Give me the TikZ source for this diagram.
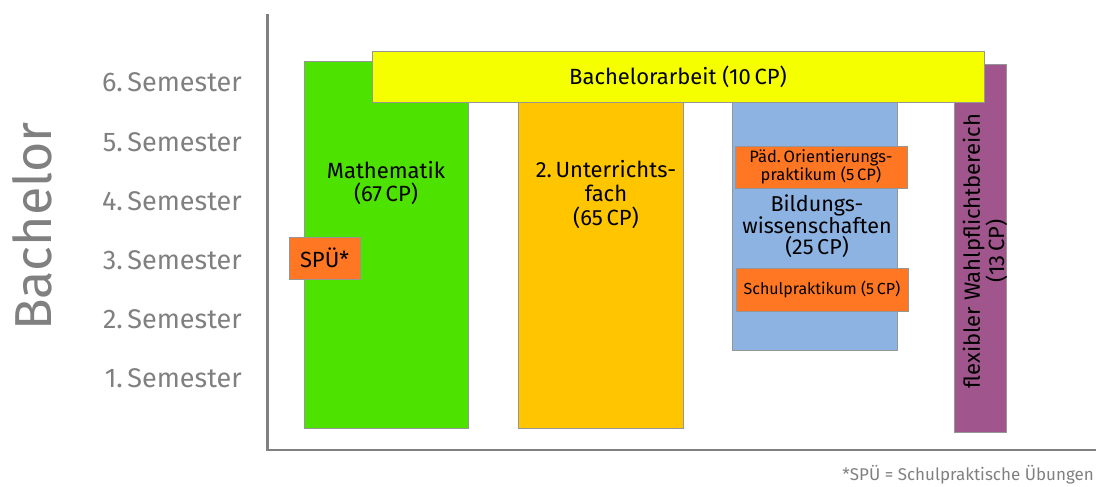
\documentclass[tikz,border=0pt]{standalone}
\usepackage{fontspec}
\setmainfont{Fira Sans}
\definecolor{axisgray}{RGB}{128,128,128}
\definecolor{cgreen}{RGB}{78,226,0}
\definecolor{cyellow}{RGB}{245,255,0}
\definecolor{cgold}{RGB}{255,198,0}
\definecolor{cblue}{RGB}{141,179,226}
\definecolor{corange}{RGB}{255,119,34}
\definecolor{cpurple}{RGB}{160,86,140}
\definecolor{edge}{RGB}{150,150,150}
\tikzset{
  blk/.style={draw=edge, line width=0.8pt},
  lbl/.style={inner sep=0pt, align=center, text=black},
  sem/.style={inner sep=0pt, anchor=base east, text=axisgray, font=\fontsize{27}{30}\selectfont},
  axisline/.style={draw=axisgray, line width=2.6pt},
  smallbox/.style={blk, fill=corange, inner sep=0pt, align=center, text=black},
}
\begin{document}
\begin{tikzpicture}[x=1pt,y=-1pt]
\useasboundingbox (0,0) rectangle (1096,487);
% axes
\coordinate (top) at (267.5,14);
\coordinate (corner) at (267.5,450);
\coordinate (right) at (1096,450);
\draw[axisline] (top) -- (corner) -- (right);
% title
\node[inner sep=0pt, rotate=90, anchor=base, text=axisgray, font=\fontsize{52}{56}\selectfont] (bach) at (51,226.5) {Bachelor};
% semester labels
\node[sem] (s6) at (242,92) {6.\,Semester};
\node[sem] (s5) at (242,151) {5.\,Semester};
\node[sem] (s4) at (242,210) {4.\,Semester};
\node[sem] (s3) at (242,269) {3.\,Semester};
\node[sem] (s2) at (242,328) {2.\,Semester};
\node[sem] (s1) at (242,387) {1.\,Semester};
% columns
\draw[blk, fill=cgreen] (304,61) rectangle (468,428);
\draw[blk, fill=cgold] (518,95) rectangle (683,428);
\draw[blk, fill=cblue] (732,95) rectangle (897,350);
\draw[blk, fill=cpurple] (954,64) rectangle (1006,432);
% Bachelorarbeit
\node[blk, fill=cyellow, inner sep=0pt, minimum width=612pt, minimum height=51pt, font=\fontsize{22}{24}\selectfont] (ba) at (678,76.5) {Bachelorarbeit (10\,CP)};
% labels
\node[lbl, font=\fontsize{22}{23.5}\selectfont] (ma) at (386,183) {Mathematik\\(67\,CP)};
\node[lbl, font=\fontsize{22}{24}\selectfont] (uf) at (606,195) {2.\,Unterrichts-\\fach\\(65\,CP)};
\node[lbl, font=\fontsize{21.5}{20.5}\selectfont] (bw) at (817,226) {Bildungs-\\wissenschaften\\(25\,CP)};
\node[lbl, rotate=90, font=\fontsize{22}{20}\selectfont] (fw) at (985,251) {flexibler Wahlpflichtbereich\\(13\,CP)};
% small orange boxes
\node[smallbox, minimum width=71pt, minimum height=42pt, font=\fontsize{22}{24}\selectfont] (spu) at (324.5,258) {SPÜ*};
\node[smallbox, minimum width=172pt, minimum height=42pt, font=\fontsize{16.5}{15.5}\selectfont] (pop) at (821,167) {Päd.\,Orientierungs-\\praktikum (5\,CP)};
\node[smallbox, minimum width=172pt, minimum height=43pt, font=\fontsize{16}{18}\selectfont] (sp) at (822,289.5) {Schulpraktikum (5\,CP)};
% footnote
\node[inner sep=0pt, anchor=base east, text=axisgray, font=\fontsize{17}{19}\selectfont] (fn) at (1094,480) {*SPÜ = Schulpraktische Übungen};
\end{tikzpicture}
\end{document}
